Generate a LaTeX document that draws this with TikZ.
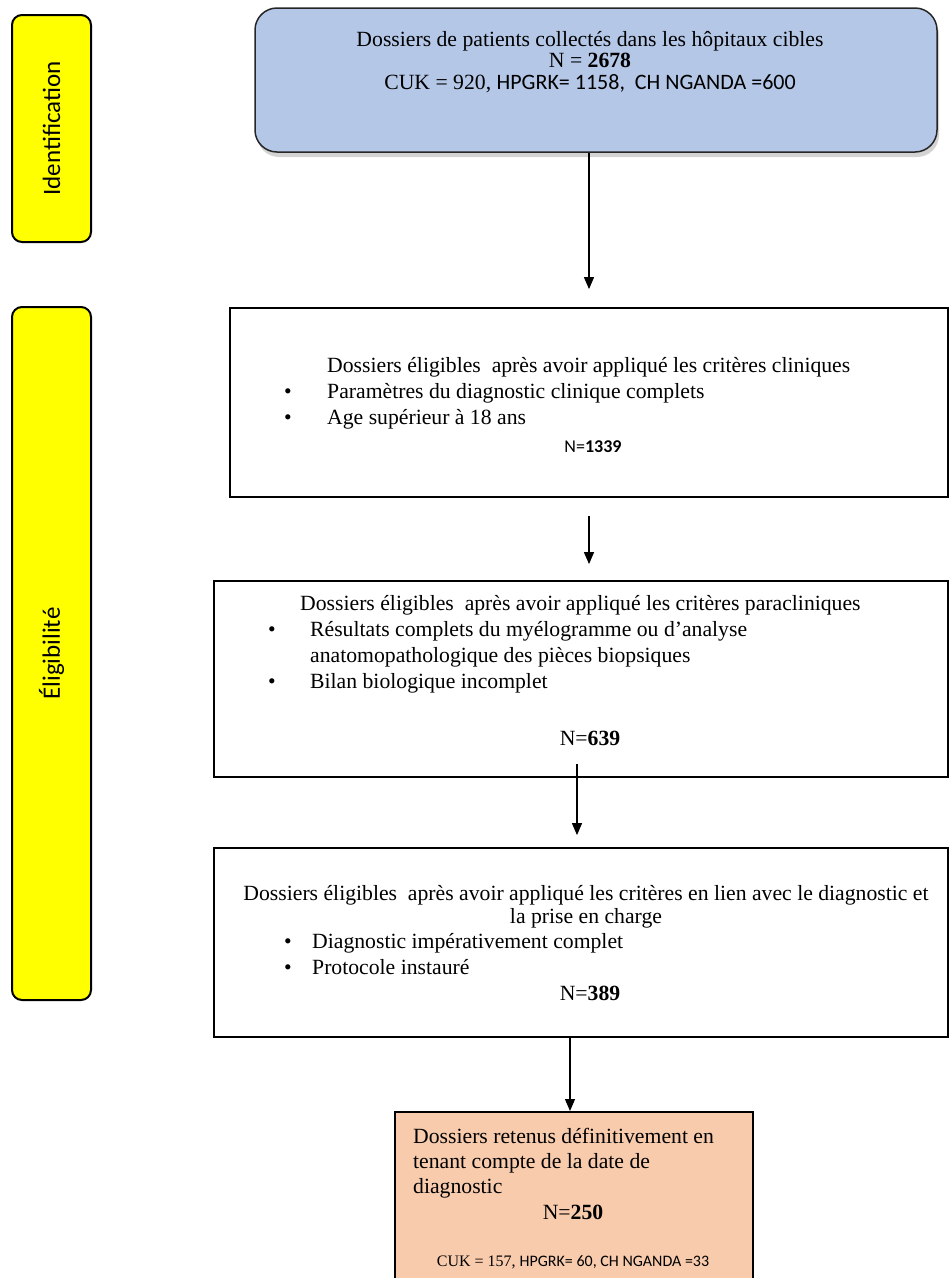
\documentclass[tikz,border=0pt]{standalone}
\usepackage{fontspec}
\setmainfont{Liberation Serif}
\setsansfont{Carlito}
\usetikzlibrary{positioning,arrows.meta,shadows}
\definecolor{collBlue}{HTML}{B4C7E7}
\definecolor{phaseYellow}{HTML}{FFFF00}
\definecolor{finalOrange}{HTML}{F8CBAD}

\begin{document}
\begin{tikzpicture}[
  x=1pt, y=-1pt,
  %% Node styles
  phase/.style={
    rounded corners=10pt, draw=black, line width=2pt,
    fill=phaseYellow, minimum width=79pt, inner sep=0pt
  },
  phaselabel/.style={rotate=90, inner sep=0pt,
    font=\sffamily\fontsize{25}{30}\selectfont},
  stepbox/.style={draw=black, line width=1.8pt, fill=white, inner sep=0pt},
  body/.style={align=left, inner sep=0pt, anchor=base west,
    font=\fontsize{21.7}{26}\selectfont},
  count/.style={inner sep=0pt, anchor=base,
    font=\fontsize{21.7}{26}\selectfont},
  %% Arrow style
  arr/.style={-{Triangle[width=10pt,length=12pt]}, line width=1.2pt},
]
\useasboundingbox (0,0) rectangle (950,1278);
\clip (0,0) rectangle (950,1278);

%% -- Phases ------------------------------------------------------------
\node[phase, minimum height=227pt] (idphase) at (51.5,128.5) {};
\node[phaselabel] at (idphase.center) {Identification};
\node[phase, minimum height=693pt] (elphase) at (51.5,653.5) {};
\node[phaselabel] at (elphase.center) {Éligibilité};

%% -- Collected records (base = last line) -----------------------------
\node[stepbox, rounded corners=22pt, fill=collBlue, draw=black!85,
      line width=1.5pt, minimum width=682pt, minimum height=144pt,
      drop shadow={shadow xshift=2pt, shadow yshift=-5pt, opacity=0.35}]
      (coll) at (596,80) {};
\node[count, align=center, font=\fontsize{21.7}{21.5}\selectfont]
      (colltext) at (590,89)
      {Dossiers de patients collectés dans les hôpitaux cibles\\
       N = \textbf{2678}\\
       CUK = 920, {\sffamily\fontsize{22}{21.5}\selectfont HPGRK= 1158,\ \ CH NGANDA =600}};

%% -- Clinical criteria -------------------------------------------------
\node[stepbox, minimum width=718pt, minimum height=189pt] (clin) at (589,402.5) {};
\node[body] (clintext) at (284,424)
      {\hspace*{43pt}Dossiers éligibles~ après avoir appliqué les critères cliniques\\
       \makebox[43pt][l]{\textbullet}Paramètres du diagnostic clinique complets\\
       \makebox[43pt][l]{\textbullet}Age supérieur à 18 ans};
\node[count, font=\sffamily\fontsize{18}{22}\selectfont] (clinN) at (593,452)
      {N=\textbf{1339}};

%% -- Paraclinical criteria ---------------------------------------------
\node[stepbox, minimum width=734pt, minimum height=196pt] (para) at (581,679) {};
\node[body] (paratext) at (268,688)
      {\hspace*{32pt}Dossiers éligibles~ après avoir appliqué les critères paracliniques\\
       \makebox[42pt][l]{\textbullet}Résultats complets du myélogramme ou d’analyse\\
       \hspace*{42pt}anatomopathologique des pièces biopsiques\\
       \makebox[42pt][l]{\textbullet}Bilan biologique incomplet};
\node[count] (paraN) at (590,745) {N=\textbf{639}};

%% -- Diagnosis and care criteria ---------------------------------------
\node[stepbox, minimum width=734pt, minimum height=189pt] (proc) at (581,942.5) {};
\node[count, align=center, font=\fontsize{21.7}{23}\selectfont] (proctext) at (586,923)
      {Dossiers éligibles~ après avoir appliqué les critères en lien avec le diagnostic et\\
       la prise en charge};
\node[body] (procitems) at (284,974)
      {\makebox[28pt][l]{\textbullet}Diagnostic impérativement complet\\
       \makebox[28pt][l]{\textbullet}Protocole instauré};
\node[count] (procN) at (590,1000) {N=\textbf{389}};

%% -- Final selection ---------------------------------------------------
\node[stepbox, fill=finalOrange, minimum width=358pt, minimum height=200pt,
      anchor=north] (final) at (574,1111) {};
\node[body, font=\fontsize{21.7}{25}\selectfont] (finaltext) at (413,1193)
      {Dossiers retenus définitivement en\\
       tenant compte de la date de\\
       diagnostic};
\node[count] (finalN) at (573,1219) {N=\textbf{250}};
\node[count, font=\fontsize{16}{20}\selectfont] (finalsites) at (573,1266)
      {CUK = 157, {\sffamily HPGRK= 60, CH NGANDA =33}};

%% -- Arrows ------------------------------------------------------------
\draw[arr, shorten >=18pt] (coll.south -| clin.north) -- (clin.north);
\draw[arr, shorten <=18pt, shorten >=16pt] (clin.south) -- (clin.south |- para.north);
\draw[arr, shorten <=-14pt, shorten >=12pt]
      ([xshift=-4pt]para.south) -- ([xshift=-4pt]para.south |- proc.north);
\draw[arr] ([xshift=-11pt]proc.south) -- ([xshift=-11pt]proc.south |- final.north);

\end{tikzpicture}
\end{document}
